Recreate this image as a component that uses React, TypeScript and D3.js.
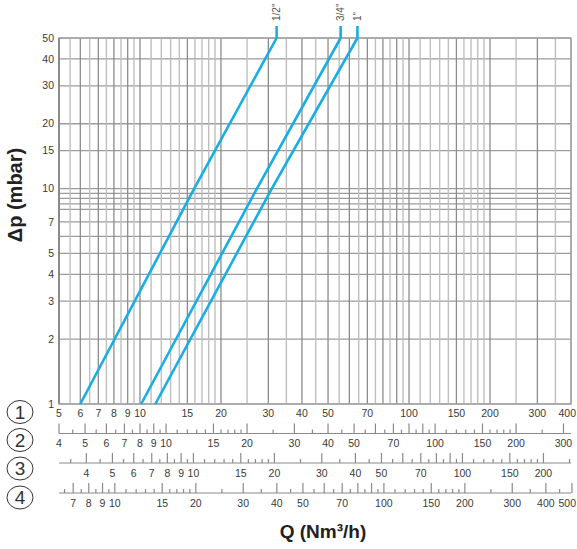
import React, { useEffect, useRef } from 'react';
import * as d3 from 'd3';

// pressure drop curves, Q read on scale 1 (Nm3/h) vs dp (mbar)
const dpValues = [1, 10, 50];
const qHalf = [6.0, 15.9, 32.2];
const qThreeQuarter = [10.1, 27.2, 55.7];
const qOne = [11.4, 30.9, 64.3];
const seriesNames = ['1/2"', '3/4"', '1"'];

// grid and tick ladders
const tallTicks = [3, 4, 5, 6, 7, 8, 9, 10, 15, 20, 30, 40, 50, 60, 70, 80, 90, 100, 150, 200, 300, 400, 500];
const shortTicks = [3.5, 4.5, 5.5, 6.5, 7.5, 8.5, 9.5, 11, 12, 13, 14, 16, 17, 18, 19, 25, 35, 45, 55, 65, 75, 85, 95, 110, 120, 130, 140, 160, 170, 180, 190, 250, 350, 450];
const yGrid = [1, 2, 3, 4, 5, 6, 7, 8, 8.5, 9, 9.5, 10, 15, 20, 30, 40, 50];
const yLabels = [1, 2, 3, 4, 5, 7, 10, 15, 20, 30, 40, 50];

// the four Q scales (factor against scale 1) and their labels
const scaleFactors = [1, 0.8, 0.633, 1.24];
const scale1Labels = [5, 6, 7, 8, 9, 10, 15, 20, 30, 40, 50, 70, 100, 150, 200, 300, 400];
const scale2Labels = [4, 5, 6, 7, 8, 9, 10, 15, 20, 30, 40, 50, 70, 100, 150, 200, 300];
const scale3Labels = [4, 5, 6, 7, 8, 9, 10, 15, 20, 30, 40, 50, 70, 100, 150, 200];
const scale4Labels = [7, 8, 9, 10, 15, 20, 30, 40, 50, 70, 100, 150, 200, 300, 400, 500];

export default function App() {
  const ref = useRef<SVGSVGElement>(null);

  useEffect(() => {
    const svg = d3.select(ref.current);
    const width = 577;
    const height = 549;
    const left = 59;
    const right = 571;
    const top = 38;
    const bottom = 404;
    const font = '"Liberation Sans", Arial, sans-serif';
    const labelColor = '#3a3a3a';

    svg.attr('width', width).attr('height', height).style('font-family', font);

    const x = d3.scaleLog().domain([5, 400]).range([left, right]);
    const y = d3.scaleLog().domain([1, 50]).range([bottom, top]);

    // Horizontal grid
    svg
      .append('g')
      .selectAll('line')
      .data(yGrid)
      .enter()
      .append('line')
      .attr('x1', left)
      .attr('x2', right)
      .attr('y1', (d) => y(d))
      .attr('y2', (d) => y(d))
      .attr('stroke', '#9c9c9c')
      .attr('stroke-width', 1.3);

    // Vertical grid
    const inX = (d: number) => d >= 5 && d <= 400;
    svg
      .append('g')
      .selectAll('line')
      .data(shortTicks.filter(inX))
      .enter()
      .append('line')
      .attr('x1', (d) => x(d))
      .attr('x2', (d) => x(d))
      .attr('y1', top)
      .attr('y2', bottom)
      .attr('stroke', '#bfbfbf')
      .attr('stroke-width', 1.4);
    svg
      .append('g')
      .selectAll('line')
      .data(tallTicks.filter(inX))
      .enter()
      .append('line')
      .attr('x1', (d) => x(d))
      .attr('x2', (d) => x(d))
      .attr('y1', top)
      .attr('y2', bottom)
      .attr('stroke', '#8c8c8c')
      .attr('stroke-width', 1.3);

    // Frame
    svg
      .append('rect')
      .attr('x', left)
      .attr('y', top)
      .attr('width', right - left)
      .attr('height', bottom - top)
      .attr('fill', 'none')
      .attr('stroke', '#a8a8a8')
      .attr('stroke-width', 1.3);
    svg
      .append('line')
      .attr('x1', left)
      .attr('x2', left)
      .attr('y1', top)
      .attr('y2', bottom)
      .attr('stroke', '#7a7a7a')
      .attr('stroke-width', 1.3);

    // Y labels
    svg
      .append('g')
      .selectAll('text')
      .data(yLabels)
      .enter()
      .append('text')
      .attr('x', 54)
      .attr('y', (d) => y(d))
      .attr('dy', '0.35em')
      .attr('text-anchor', 'end')
      .attr('font-size', 10.5)
      .attr('fill', labelColor)
      .text((d) => d);

    // Curves
    const line = d3
      .line<number>()
      .x((d) => x(d))
      .y((_, i) => y(dpValues[i]));
    [qHalf, qThreeQuarter, qOne].forEach((qs, k) => {
      svg
        .append('path')
        .datum(qs)
        .attr('d', line)
        .attr('fill', 'none')
        .attr('stroke', '#17aee6')
        .attr('stroke-width', 2.6)
        .attr('stroke-linejoin', 'round');
      const qTop = qs[qs.length - 1];
      svg
        .append('line')
        .attr('x1', x(qTop))
        .attr('x2', x(qTop))
        .attr('y1', y(50))
        .attr('y2', 26)
        .attr('stroke', '#17aee6')
        .attr('stroke-width', 2.6);
      svg
        .append('text')
        .attr('transform', `translate(${x(qTop) + 3.5}, 21) rotate(-90)`)
        .attr('text-anchor', 'start')
        .attr('font-size', 10)
        .attr('fill', '#555')
        .text(seriesNames[k]);
    });

    // Q scales below the chart
    const labelSets = [scale1Labels, scale2Labels, scale3Labels, scale4Labels];
    const axisY = [null, 433.5, 463, 493];
    const labelY = [417, 447, 477, 507];
    const circleY = [412, 440, 468.5, 497.5];

    scaleFactors.forEach((f, i) => {
      const s = d3.scaleLog().domain([5 * f, 400 * f]).range([left, right]);
      const onScale = (d: number) => s(d) >= left - 0.5 && s(d) <= right + 1.5;
      const g = svg.append('g');
      const ay = axisY[i];
      if (ay !== null) {
        g.append('line')
          .attr('x1', left)
          .attr('x2', right)
          .attr('y1', ay)
          .attr('y2', ay)
          .attr('stroke', '#8a8a8a')
          .attr('stroke-width', 1.2);
        g.selectAll('.tall')
          .data(tallTicks.filter(onScale))
          .enter()
          .append('line')
          .attr('x1', (d) => s(d))
          .attr('x2', (d) => s(d))
          .attr('y1', ay - 10)
          .attr('y2', ay)
          .attr('stroke', '#8a8a8a')
          .attr('stroke-width', 1.2);
        g.selectAll('.short')
          .data(shortTicks.filter(onScale))
          .enter()
          .append('line')
          .attr('x1', (d) => s(d))
          .attr('x2', (d) => s(d))
          .attr('y1', ay - 4)
          .attr('y2', ay)
          .attr('stroke', '#8a8a8a')
          .attr('stroke-width', 1.2);
      }
      // labels near the right edge are pulled in so they stay on the page
      g.selectAll('text')
        .data(labelSets[i])
        .enter()
        .append('text')
        .attr('x', (d) => (s(d) > 565 ? width - 1 : s(d)))
        .attr('y', labelY[i])
        .attr('text-anchor', (d) => (s(d) > 565 ? 'end' : 'middle'))
        .attr('font-size', 10.5)
        .attr('fill', labelColor)
        .text((d) => d);

      // circled scale number
      svg
        .append('ellipse')
        .attr('cx', 20)
        .attr('cy', circleY[i])
        .attr('rx', 13)
        .attr('ry', 11.5)
        .attr('fill', 'none')
        .attr('stroke', '#333')
        .attr('stroke-width', 1);
      svg
        .append('text')
        .attr('x', 20)
        .attr('y', circleY[i])
        .attr('dy', '0.36em')
        .attr('text-anchor', 'middle')
        .attr('font-size', 19)
        .attr('fill', '#333')
        .text(i + 1);
    });

    // Axis titles
    svg
      .append('text')
      .attr('transform', 'translate(22, 195) rotate(-90)')
      .attr('text-anchor', 'middle')
      .attr('font-size', 20)
      .attr('font-weight', 'bold')
      .attr('fill', '#222')
      .text('Δp (mbar)');
    svg
      .append('text')
      .attr('x', 323)
      .attr('y', 538)
      .attr('text-anchor', 'middle')
      .attr('font-size', 19)
      .attr('font-weight', 'bold')
      .attr('fill', '#222')
      .text('Q (Nm³/h)');

    return () => {
      svg.selectAll('*').remove();
    };
  });

  return (
    <svg
      ref={ref}
      style={{ position: 'absolute', left: 0, top: 0, background: '#fff' }}
    />
  );
}
